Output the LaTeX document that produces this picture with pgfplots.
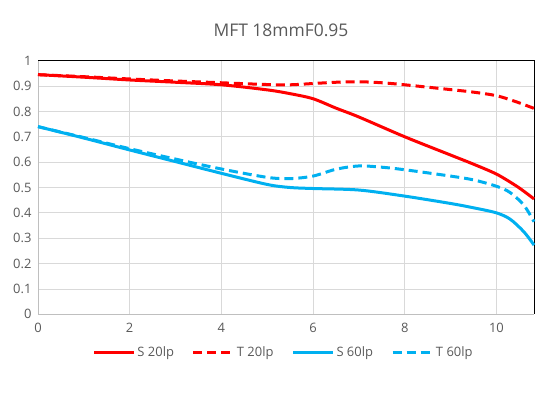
\documentclass[border=0pt]{standalone}
\usepackage{pgfplots}
\pgfplotsset{compat=1.18}
\usepackage{fontspec}
\setmainfont{Open Sans}
\definecolor{txt}{HTML}{595959}
\definecolor{grd}{HTML}{D9D9D9}
\definecolor{axl}{HTML}{BFBFBF}
\definecolor{mred}{HTML}{FF0000}
\definecolor{mblue}{HTML}{00B0F0}
\begin{document}
\begin{tikzpicture}[x=1bp,y=1bp]
\useasboundingbox (0,0) rectangle (551,398);
\node[text=txt,font=\fontsize{17.5}{20}\selectfont] at (281,367.3) {MFT 18mmF0.95};
\begin{axis}[
  at={(38bp,83.7bp)}, anchor=south west,
  scale only axis, width=496bp, height=253.6bp,
  xmin=0, xmax=10.82, ymin=0, ymax=1,
  xtick={0,2,4,6,8,10}, ytick={0,0.1,...,1.01},
  yticklabels={0,0.1,0.2,0.3,0.4,0.5,0.6,0.7,0.8,0.9,1},
  grid=major, major grid style={grd, line width=0.8bp},
  axis line style={draw=none},
  tick style={draw=none},
  /pgf/number format/assume math mode=true,
  tick label style={text=txt, font=\fontsize{13}{15}\selectfont},
  xticklabel style={yshift=-5bp},
  yticklabel style={xshift=-3bp},
  legend style={at={(0.495,-0.149)}, anchor=center, draw=none, fill=none,
    legend columns=4, font=\fontsize{13}{15}\selectfont, text=txt,
    /tikz/every even column/.append style={column sep=16bp}},
  legend image code/.code={\draw[#1] (0bp,0bp) -- (40bp,0bp);},
  clip=false,
]
\draw[axl, line width=0.8bp] (rel axis cs:0,1) -- (rel axis cs:0,0) -- (rel axis cs:1,0);
\draw[black, line width=0.8bp] (rel axis cs:0,1) -- (rel axis cs:1,1) -- (rel axis cs:1,0);
\addplot[mred, line width=3bp, smooth, no marks] coordinates {
(0,0.945) (1,0.935) (2,0.924) (3,0.915) (4,0.905) (5,0.885) (5.5,0.87) (6,0.85) (6.5,0.813) (7,0.778) (8,0.70) (9,0.628) (9.5,0.592) (10,0.553) (10.4,0.51) (10.6,0.485) (10.82,0.455)};
\addlegendentry{S 20lp}
\addplot[mred, line width=3bp, smooth, no marks, dash pattern=on 9bp off 5bp] coordinates {
(0,0.945) (1,0.937) (2,0.928) (3,0.92) (4,0.913) (5,0.906) (5.5,0.905) (6,0.91) (6.5,0.915) (7,0.917) (7.5,0.913) (8,0.905) (9,0.886) (9.5,0.876) (10,0.862) (10.4,0.84) (10.82,0.812)};
\addlegendentry{T 20lp}
\addplot[mblue, line width=3bp, smooth, no marks] coordinates {
(0,0.74) (1,0.695) (2,0.648) (3,0.602) (4,0.556) (5,0.512) (5.5,0.5) (6,0.496) (7,0.49) (8,0.466) (9,0.437) (9.5,0.42) (10,0.4) (10.3,0.375) (10.6,0.325) (10.82,0.273)};
\addlegendentry{S 60lp}
\addplot[mblue, line width=3bp, smooth, no marks, dash pattern=on 9bp off 5bp] coordinates {
(0,0.74) (1,0.697) (2,0.653) (3,0.612) (4,0.573) (5,0.54) (5.5,0.535) (6,0.545) (6.5,0.572) (7,0.585) (7.5,0.58) (8,0.57) (9,0.545) (9.5,0.53) (10,0.505) (10.3,0.48) (10.6,0.43) (10.82,0.365)};
\addlegendentry{T 60lp}
\end{axis}
\end{tikzpicture}
\end{document}
